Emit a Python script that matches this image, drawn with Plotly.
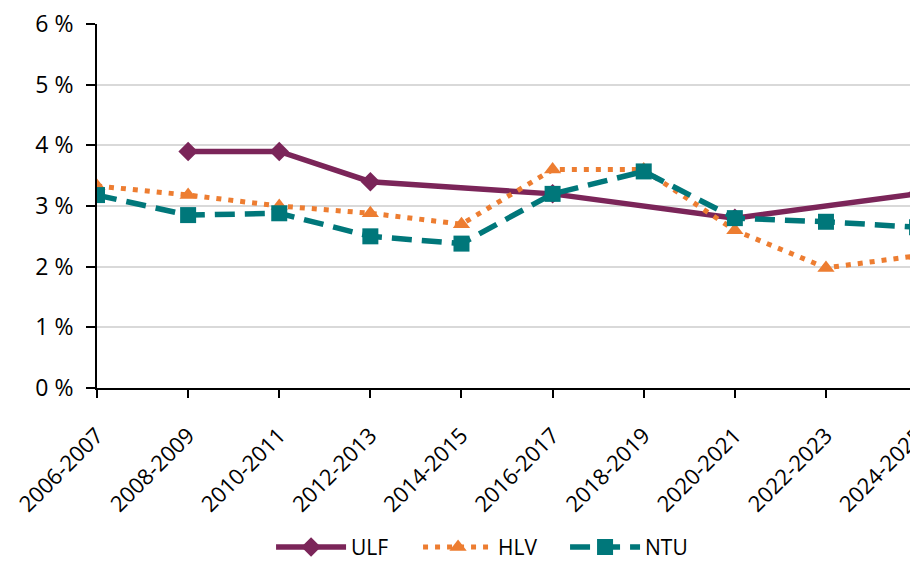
import plotly.graph_objects as go

categories = ["2006-2007", "2008-2009", "2010-2011", "2012-2013", "2014-2015",
              "2016-2017", "2018-2019", "2020-2021", "2022-2023", "2024-2025"]
ulf = [None, 3.9, 3.9, 3.4, None, 3.2, None, 2.8, None, 3.2]
hlv = [3.33, 3.18, 3.0, 2.88, 2.7, 3.6, 3.6, 2.6, 1.98, 2.18]
ntu = [3.18, 2.85, 2.88, 2.5, 2.38, 3.2, 3.57, 2.8, 2.74, 2.65]
y_ticks = [0, 1, 2, 3, 4, 5, 6]
y_labels = ["0 %", "1 %", "2 %", "3 %", "4 %", "5 %", "6 %"]

FONT = "'Open Sans', 'Noto Sans', sans-serif"

fig = go.Figure()
fig.add_trace(go.Scatter(
    x=categories, y=ulf, name="ULF", mode="lines+markers", connectgaps=True,
    line=dict(color="#7B2559", width=5.5),
    marker=dict(symbol="diamond", size=15, color="#7B2559"),
))
fig.add_trace(go.Scatter(
    x=categories, y=hlv, name="HLV", mode="lines+markers",
    line=dict(color="#ED7D31", width=5, dash="5px,7px"),
    marker=dict(symbol="triangle-up", size=15, color="#ED7D31"),
))
fig.add_trace(go.Scatter(
    x=categories, y=ntu, name="NTU", mode="lines+markers",
    line=dict(color="#00777A", width=5.5, dash="20px,10px"),
    marker=dict(symbol="square", size=16, color="#00777A"),
))

# page body has an 8px default margin; figure size and margins compensate for it
fig.update_layout(
    width=910, height=561,
    margin=dict(l=89, r=0, t=16, b=181, autoexpand=False),
    paper_bgcolor="white", plot_bgcolor="white",
    font=dict(family=FONT, size=21, color="black"),
    showlegend=True,
    legend=dict(
        orientation="h", x=0.212, xanchor="left", y=-0.494, yanchor="bottom",
        font=dict(family=FONT, size=21, color="black"),
        itemwidth=70, entrywidth=62, entrywidthmode="pixels",
        traceorder="normal",
    ),
)
fig.update_xaxes(
    type="category", range=[0, 9.01], tickangle=-45, automargin=False,
    showline=True, linecolor="black", linewidth=2,
    ticks="outside", ticklen=8, tickcolor="black", tickwidth=2,
    ticklabelstandoff=16, ticklabeloverflow="allow",
    showgrid=False, tickfont=dict(family=FONT, size=22, color="black"),
)
fig.update_yaxes(
    range=[0, 6], tickvals=y_ticks, ticktext=y_labels, automargin=False,
    showline=True, linecolor="black", linewidth=2,
    ticks="outside", ticklen=9, tickcolor="black", tickwidth=2,
    ticklabelstandoff=8, ticklabeloverflow="allow",
    showgrid=True, gridcolor="#D9D9D9", gridwidth=2, zeroline=False,
    tickfont=dict(family=FONT, size=23, color="black"),
)

fig.write_html("out.html")
